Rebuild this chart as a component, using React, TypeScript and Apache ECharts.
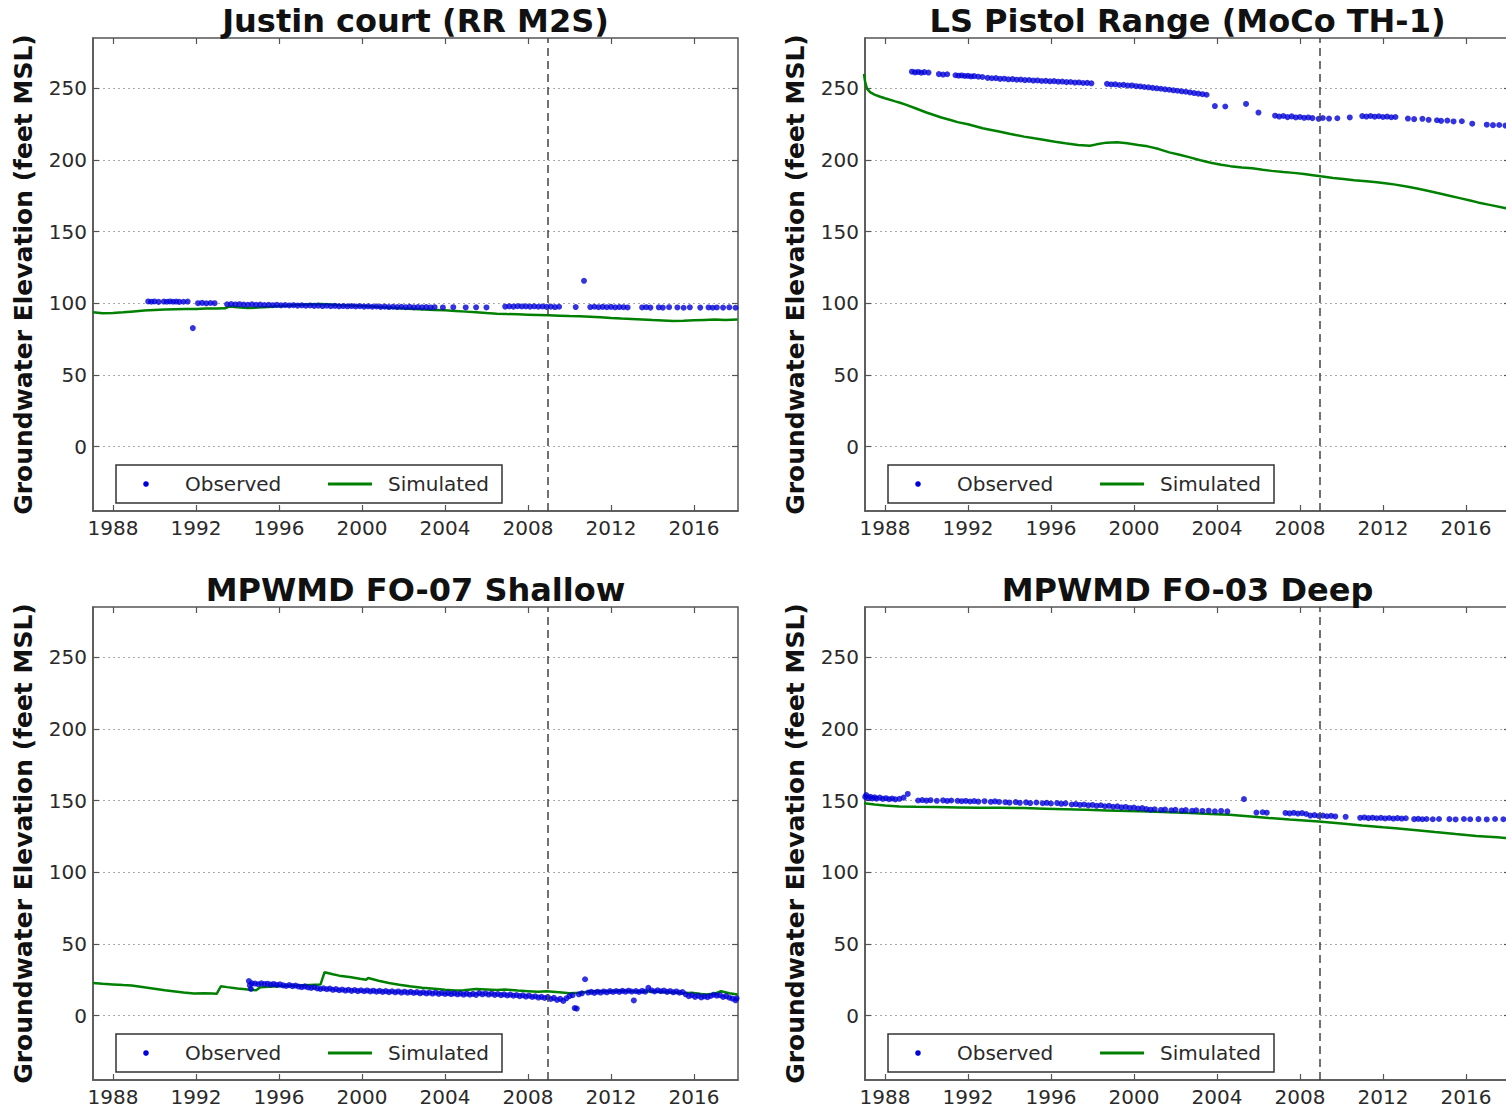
import React, { useEffect, useRef } from "react";
import * as echarts from "echarts";

// ---------- DATA ----------
const xTicks = [1988, 1992, 1996, 2000, 2004, 2008, 2012, 2016];
const yTicks = [0, 50, 100, 150, 200, 250];
const calibrationEnd = 2008.95;
const titles = [
  "Justin court (RR M2S)",
  "LS Pistol Range (MoCo TH-1)",
  "MPWMD FO-07 Shallow",
  "MPWMD FO-03 Deep",
];

const justinSim = [
  [1987.04, 93.6], [1987.5, 93.0], [1988.0, 93.1], [1988.5, 93.6], [1989.0, 94.2], [1989.5, 94.8], [1990.0, 95.3],
  [1990.5, 95.6], [1991.0, 95.8], [1991.5, 96.0], [1992.0, 96.0], [1992.5, 96.2], [1993.0, 96.3], [1993.4, 96.4],
  [1993.6, 97.6], [1994.0, 97.2], [1994.5, 96.6], [1995.0, 96.9], [1995.5, 97.4], [1996.0, 97.8], [1996.5, 98.3],
  [1997.0, 98.9], [1997.5, 99.2], [1998.0, 99.4], [1998.5, 99.0], [1999.0, 98.6], [1999.5, 98.3], [2000.0, 98.0],
  [2000.5, 97.6], [2001.0, 97.1], [2001.5, 96.7], [2002.0, 96.3], [2002.5, 96.0], [2003.0, 95.6], [2003.5, 95.3],
  [2004.0, 95.0], [2004.5, 94.6], [2005.0, 94.1], [2005.5, 93.6], [2006.0, 93.1], [2006.5, 92.7], [2007.0, 92.4],
  [2007.5, 92.2], [2008.0, 92.0], [2008.5, 91.8], [2009.0, 91.6], [2009.5, 91.3], [2010.0, 91.0], [2010.5, 90.8],
  [2011.0, 90.6], [2011.5, 90.2], [2012.0, 89.7], [2012.5, 89.3], [2013.0, 89.0], [2013.5, 88.6], [2014.0, 88.2],
  [2014.5, 87.9], [2015.0, 87.6], [2015.5, 87.7], [2016.0, 88.0], [2016.5, 88.3], [2017.0, 88.6], [2017.5, 88.2],
  [2018.1, 88.6],
];

const justinObs = [
  [1989.7, 101.2], [1989.85, 101.0], [1990.0, 101.2], [1990.2, 100.9], [1990.45, 101.1], [1990.6, 101.0],
  [1990.75, 101.2], [1990.9, 101.0], [1991.05, 101.1], [1991.2, 100.9], [1991.4, 101.0], [1991.6, 101.1],
  [1991.85, 82.6],
  [1992.1, 100.0], [1992.3, 100.2], [1992.5, 99.9], [1992.7, 100.1], [1992.9, 100.0],
  [1993.5, 99.2], [1993.7, 99.4], [1993.9, 99.1], [1994.1, 99.3], [1994.3, 99.0], [1994.5, 98.9], [1994.7, 99.2],
  [1994.9, 98.8], [1995.1, 99.0], [1995.3, 98.7], [1995.5, 98.9], [1995.7, 98.6], [1995.9, 98.8], [1996.1, 98.5],
  [1996.3, 98.7], [1996.5, 98.4], [1996.7, 98.6], [1996.9, 98.3], [1997.1, 98.5], [1997.3, 98.2], [1997.5, 98.4],
  [1997.7, 98.1], [1997.9, 98.3], [1998.1, 98.0], [1998.3, 98.2], [1998.5, 97.9], [1998.7, 98.1], [1998.9, 97.8],
  [1999.1, 98.0], [1999.3, 97.8], [1999.5, 98.0], [1999.7, 97.7], [1999.9, 97.9], [2000.1, 97.6], [2000.3, 97.8],
  [2000.5, 97.5], [2000.7, 97.7], [2000.9, 97.4], [2001.1, 97.6], [2001.3, 97.3], [2001.5, 97.5], [2001.7, 97.3],
  [2001.9, 97.5], [2002.1, 97.2], [2002.3, 97.4], [2002.5, 97.1], [2002.7, 97.3], [2002.9, 97.1], [2003.1, 97.3],
  [2003.3, 97.0], [2003.5, 97.2],
  [2003.9, 97.0], [2004.4, 97.2], [2005.0, 97.0], [2005.5, 97.1], [2006.0, 97.0],
  [2006.9, 97.6], [2007.1, 97.8], [2007.3, 97.6], [2007.5, 97.9], [2007.7, 97.7], [2007.9, 97.8], [2008.1, 97.6],
  [2008.3, 97.8], [2008.5, 97.5], [2008.7, 97.7], [2008.9, 97.4], [2009.1, 97.6], [2009.3, 97.3], [2009.5, 97.5],
  [2010.3, 97.3], [2010.7, 115.6],
  [2011.0, 97.3], [2011.2, 97.5], [2011.4, 97.2], [2011.6, 97.4], [2011.8, 97.2], [2012.0, 97.4], [2012.2, 97.1],
  [2012.4, 97.3], [2012.6, 97.2], [2012.8, 97.0],
  [2013.5, 97.0], [2013.7, 97.2], [2013.9, 96.9], [2014.3, 97.1], [2014.5, 96.9], [2014.8, 97.2], [2015.2, 97.0],
  [2015.5, 96.8], [2015.8, 97.1], [2016.3, 96.9], [2016.7, 97.0], [2016.9, 96.8], [2017.1, 97.0], [2017.4, 96.9],
  [2017.7, 97.1], [2018.0, 96.8],
];

const pistolSim = [
  [1986.99, 260.0], [1987.05, 254.0], [1987.14, 249.5], [1987.3, 247.0], [1987.5, 245.5], [1987.74, 244.2],
  [1988.0, 243.0], [1988.5, 240.8], [1988.73, 239.8], [1989.0, 238.5], [1989.5, 235.8], [1990.0, 233.0],
  [1990.72, 229.5], [1991.2, 227.6], [1991.5, 226.3], [1992.0, 224.8], [1992.71, 222.0], [1993.0, 221.2],
  [1993.5, 219.8], [1994.0, 218.2], [1994.7, 216.2], [1995.2, 215.0], [1995.7, 213.9], [1996.2, 212.6],
  [1996.69, 211.5], [1997.3, 210.4], [1997.88, 209.8], [1998.2, 210.8], [1998.68, 212.0], [1999.2, 212.2],
  [1999.67, 211.6], [2000.2, 210.4], [2000.66, 209.4], [2001.2, 207.5], [2001.7, 205.2], [2002.2, 203.6],
  [2002.65, 201.9], [2003.2, 199.7], [2003.7, 198.0], [2004.2, 196.6], [2004.64, 195.6], [2005.2, 194.7],
  [2005.7, 194.1], [2006.2, 193.1], [2006.63, 192.3], [2007.2, 191.5], [2007.7, 190.9], [2008.2, 190.1],
  [2008.62, 189.3], [2009.0, 188.5], [2009.6, 187.4], [2010.1, 186.6], [2010.61, 185.8], [2011.2, 185.0],
  [2011.7, 184.3], [2012.2, 183.5], [2012.6, 182.7], [2013.2, 181.2], [2013.7, 179.8], [2014.2, 178.3],
  [2014.58, 177.0], [2015.2, 175.0], [2015.7, 173.3], [2016.2, 171.6], [2016.57, 170.3], [2017.2, 168.4],
  [2017.93, 166.2], [2018.15, 165.6],
];

const pistolObs = [
  [1989.3, 261.5], [1989.45, 261.0], [1989.6, 261.3], [1989.75, 260.8], [1989.9, 261.2], [1990.1, 260.9],
  [1990.6, 259.8], [1990.8, 259.5], [1991.0, 259.7],
  [1991.4, 259.0], [1991.55, 258.7], [1991.7, 258.9], [1991.85, 258.5], [1992.0, 258.6], [1992.15, 258.2],
  [1992.3, 258.4], [1992.5, 258.0], [1992.7, 257.8],
  [1992.95, 257.2], [1993.15, 256.9], [1993.35, 257.0], [1993.55, 256.5], [1993.75, 256.6], [1993.95, 256.2],
  [1994.15, 256.3], [1994.35, 255.9], [1994.55, 256.0], [1994.75, 255.6], [1994.95, 255.7], [1995.15, 255.3],
  [1995.35, 255.4], [1995.55, 255.0], [1995.75, 255.1], [1995.95, 254.8], [1996.15, 254.9], [1996.35, 254.5],
  [1996.55, 254.6], [1996.75, 254.2], [1996.95, 254.3], [1997.15, 253.9], [1997.35, 254.0], [1997.55, 253.6],
  [1997.75, 253.7], [1997.95, 253.4],
  [1998.7, 253.0], [1998.9, 252.6], [1999.1, 252.7], [1999.3, 252.2], [1999.5, 252.3], [1999.7, 251.8],
  [1999.9, 251.9], [2000.1, 251.4], [2000.3, 251.2], [2000.5, 250.8], [2000.7, 250.6], [2000.9, 250.2],
  [2001.1, 249.9], [2001.3, 249.6], [2001.5, 249.2], [2001.7, 248.9], [2001.9, 248.5], [2002.1, 248.2],
  [2002.3, 247.8], [2002.5, 247.5], [2002.7, 247.0], [2002.9, 246.6], [2003.1, 246.2], [2003.3, 245.8],
  [2003.5, 245.4],
  [2003.9, 237.5], [2004.4, 237.2], [2005.4, 239.0], [2006.0, 233.0],
  [2006.8, 230.8], [2007.0, 230.2], [2007.2, 230.6], [2007.4, 229.8], [2007.6, 230.3], [2007.8, 229.6],
  [2008.0, 229.9], [2008.2, 229.3], [2008.4, 229.6], [2008.6, 229.1], [2008.9, 228.6], [2009.1, 229.2],
  [2009.4, 228.8], [2009.8, 229.0], [2010.4, 229.6],
  [2011.0, 230.5], [2011.2, 230.2], [2011.4, 230.6], [2011.6, 230.1], [2011.8, 230.4], [2012.0, 229.9],
  [2012.2, 230.2], [2012.4, 229.7], [2012.6, 229.9],
  [2013.2, 228.8], [2013.5, 228.4], [2013.9, 228.6], [2014.2, 227.9], [2014.6, 227.6], [2014.8, 227.2],
  [2015.1, 227.4], [2015.4, 226.8], [2015.8, 226.9], [2016.3, 225.2], [2017.0, 224.5], [2017.3, 224.2],
  [2017.6, 224.3], [2017.9, 223.9], [2018.1, 224.1],
];

const fo07Sim = [
  [1987.04, 22.7], [1987.5, 22.2], [1988.0, 21.7], [1988.5, 21.2], [1988.9, 20.9], [1989.5, 19.7], [1990.0, 18.7],
  [1990.5, 17.6], [1990.9, 16.9], [1991.4, 16.0], [1991.9, 15.3], [1992.4, 15.5], [1992.8, 15.3], [1993.0, 15.1],
  [1993.2, 20.4], [1993.5, 19.8], [1994.0, 18.9], [1994.5, 18.1], [1994.9, 17.6], [1995.1, 19.7], [1995.5, 20.0],
  [1996.0, 20.4], [1996.5, 20.7], [1996.9, 20.9], [1997.5, 21.3], [1998.0, 21.6], [1998.2, 30.2], [1998.6, 28.8],
  [1998.9, 27.8], [1999.4, 26.8], [1999.9, 25.6], [2000.2, 25.0], [2000.3, 26.2], [2000.8, 24.3], [2001.3, 22.7],
  [2001.8, 21.5], [2002.3, 20.4], [2002.9, 19.3], [2003.5, 18.6], [2004.0, 18.0], [2004.5, 17.5], [2004.9, 17.6],
  [2005.5, 18.5], [2006.0, 18.2], [2006.5, 17.8], [2006.9, 18.1], [2007.5, 17.4], [2008.0, 17.0], [2008.5, 16.5],
  [2008.9, 16.9], [2009.5, 16.2], [2010.0, 15.6], [2010.5, 15.8], [2011.0, 16.7], [2011.5, 17.0], [2011.9, 16.9],
  [2012.5, 17.3], [2013.0, 17.0], [2013.5, 16.6], [2013.9, 16.9], [2014.5, 16.3], [2015.0, 16.0], [2015.5, 15.6],
  [2015.9, 15.8], [2016.5, 14.7], [2017.0, 15.2], [2017.3, 16.9], [2017.7, 15.5], [2018.1, 14.6],
];

const fo07Obs = [
  [1994.55, 24.0], [1994.6, 21.0], [1994.65, 18.5], [1994.7, 22.5],
  [1994.85, 22.3], [1995.0, 21.8], [1995.15, 22.5], [1995.3, 21.9], [1995.45, 22.2], [1995.6, 21.6], [1995.75, 22.0],
  [1995.9, 21.3], [1996.05, 21.7], [1996.2, 21.0], [1996.35, 20.6], [1996.5, 21.2], [1996.65, 20.5], [1996.8, 20.9],
  [1996.95, 20.2], [1997.1, 19.8], [1997.25, 20.3], [1997.4, 19.6], [1997.55, 19.2], [1997.7, 19.7], [1997.85, 18.9],
  [1998.0, 18.5], [1998.15, 19.0], [1998.3, 18.3], [1998.45, 18.8], [1998.6, 17.9], [1998.75, 18.4], [1998.9, 17.6],
  [1999.05, 18.1], [1999.2, 17.4], [1999.35, 17.9], [1999.5, 17.2], [1999.65, 17.8], [1999.8, 17.0], [1999.95, 17.6],
  [2000.1, 16.9], [2000.25, 17.5], [2000.4, 16.8], [2000.55, 17.3], [2000.7, 16.6], [2000.85, 17.2], [2001.0, 16.5],
  [2001.15, 17.0], [2001.3, 16.3], [2001.45, 16.9], [2001.6, 16.2], [2001.75, 16.8], [2001.9, 16.0], [2002.05, 16.6],
  [2002.2, 15.9], [2002.35, 16.5], [2002.5, 15.7], [2002.65, 16.3], [2002.8, 15.5], [2002.95, 16.2], [2003.1, 15.4],
  [2003.25, 16.0], [2003.4, 15.3], [2003.55, 15.9], [2003.7, 15.1], [2003.85, 15.7], [2004.0, 15.0], [2004.15, 15.6],
  [2004.3, 14.9], [2004.45, 15.5], [2004.6, 14.8], [2004.75, 15.3], [2004.9, 14.6], [2005.05, 15.2], [2005.2, 14.5],
  [2005.35, 15.1], [2005.5, 14.4], [2005.65, 15.6], [2005.8, 14.8], [2005.95, 15.4], [2006.1, 14.6], [2006.25, 15.2],
  [2006.4, 14.4], [2006.55, 15.0], [2006.7, 14.2], [2006.85, 14.8], [2007.0, 14.0], [2007.15, 14.6], [2007.3, 13.8],
  [2007.45, 14.3], [2007.6, 13.5], [2007.75, 14.1], [2007.9, 13.2], [2008.05, 13.8], [2008.2, 12.9], [2008.35, 13.4],
  [2008.5, 12.5], [2008.65, 13.0], [2008.8, 12.2], [2008.95, 12.8], [2009.1, 11.5], [2009.25, 12.3], [2009.4, 10.8],
  [2009.55, 11.6], [2009.7, 10.2], [2009.85, 12.0], [2010.0, 13.5], [2010.15, 14.2], [2010.25, 5.2], [2010.35, 4.8],
  [2010.45, 14.8], [2010.6, 15.5], [2010.75, 25.3], [2010.9, 16.0], [2011.05, 16.5], [2011.2, 15.8], [2011.35, 16.6],
  [2011.5, 16.0], [2011.65, 16.8], [2011.8, 16.2], [2011.95, 17.0], [2012.1, 16.4], [2012.25, 17.1], [2012.4, 16.5],
  [2012.55, 17.2], [2012.7, 16.6], [2012.85, 17.3], [2013.0, 16.7], [2013.1, 10.5], [2013.2, 17.0], [2013.35, 16.4],
  [2013.5, 17.2], [2013.65, 16.6], [2013.8, 19.3], [2013.95, 17.5], [2014.1, 16.8], [2014.25, 17.6], [2014.4, 16.9],
  [2014.55, 17.4], [2014.7, 16.5], [2014.85, 17.1], [2015.0, 16.2], [2015.15, 16.8], [2015.3, 15.9], [2015.45, 16.4],
  [2015.6, 14.8], [2015.75, 13.5], [2015.9, 14.2], [2016.05, 13.0], [2016.2, 13.8], [2016.35, 12.6], [2016.5, 13.4],
  [2016.65, 12.8], [2016.8, 13.6], [2016.95, 14.5], [2017.1, 13.8], [2017.25, 14.2], [2017.4, 12.9], [2017.55, 13.5],
  [2017.7, 12.4], [2017.85, 11.8], [2018.0, 10.6], [2018.05, 12.0],
];

const fo03Sim = [
  [1987.0, 148.1], [1987.5, 147.2], [1988.0, 146.5], [1988.7, 145.8], [1989.5, 145.6], [1990.5, 145.4],
  [1991.5, 145.2], [1992.5, 145.0], [1993.5, 144.9], [1994.7, 144.7], [1995.7, 144.3], [1996.7, 143.9],
  [1997.7, 143.5], [1998.7, 143.1], [1999.7, 142.7], [2000.7, 142.3], [2001.7, 141.8], [2002.7, 141.2],
  [2003.7, 140.6], [2004.6, 140.0], [2005.5, 139.0], [2006.5, 137.8], [2007.5, 136.7], [2008.9, 135.4],
  [2010.0, 134.0], [2011.0, 132.6], [2012.0, 131.4], [2012.6, 130.7], [2013.5, 129.5], [2014.5, 128.0],
  [2015.5, 126.6], [2016.5, 125.3], [2017.5, 124.3], [2018.15, 123.5],
];

const fo03Obs = [
  [1987.02, 155.0], [1987.05, 152.5], [1987.1, 153.8], [1987.2, 151.8], [1987.3, 152.6], [1987.4, 151.5],
  [1987.5, 152.2], [1987.6, 151.3], [1987.75, 152.0], [1987.9, 151.2], [1988.05, 151.6], [1988.2, 150.9],
  [1988.35, 151.4], [1988.5, 150.8], [1988.7, 151.2], [1988.9, 152.0], [1989.1, 154.6],
  [1989.6, 150.0], [1989.8, 150.3], [1990.0, 149.9], [1990.2, 150.2], [1990.5, 149.8], [1990.8, 150.1],
  [1991.0, 149.7], [1991.2, 150.0], [1991.5, 149.8],
  [1991.7, 149.5], [1991.9, 149.7], [1992.1, 149.3], [1992.3, 149.6], [1992.5, 149.2], [1992.8, 149.5],
  [1993.1, 149.1], [1993.3, 149.4], [1993.5, 149.0],
  [1993.8, 148.8], [1994.0, 148.5], [1994.3, 148.9], [1994.5, 148.4], [1994.8, 148.7], [1995.0, 148.2],
  [1995.3, 148.6], [1995.6, 148.1], [1995.8, 148.4], [1996.0, 147.9], [1996.3, 148.2], [1996.5, 147.7],
  [1996.7, 148.0],
  [1997.0, 147.2], [1997.2, 147.5], [1997.4, 146.9], [1997.6, 147.2], [1997.8, 146.6], [1998.0, 146.9],
  [1998.2, 146.3], [1998.4, 146.7], [1998.6, 146.0], [1998.8, 146.3], [1999.0, 145.6], [1999.2, 145.9],
  [1999.4, 145.2], [1999.6, 145.5], [1999.8, 144.8], [2000.0, 145.1], [2000.2, 144.4], [2000.4, 144.7],
  [2000.6, 144.0],
  [2000.8, 143.6], [2001.0, 143.9], [2001.3, 143.4], [2001.5, 143.7], [2001.8, 143.2], [2002.0, 143.5],
  [2002.3, 143.0], [2002.5, 143.3], [2002.8, 142.8], [2003.0, 143.1], [2003.3, 142.7], [2003.6, 142.9],
  [2003.9, 142.5], [2004.2, 142.7], [2004.5, 142.4],
  [2005.3, 151.0], [2005.9, 141.6], [2006.2, 141.8], [2006.4, 141.5],
  [2007.3, 141.3], [2007.5, 141.0], [2007.7, 141.4], [2007.9, 140.9], [2008.1, 141.2], [2008.3, 140.6],
  [2008.5, 139.5], [2008.7, 139.8], [2008.9, 139.2], [2009.1, 139.5], [2009.3, 139.0], [2009.5, 139.3],
  [2009.7, 138.9], [2010.2, 138.6],
  [2010.9, 137.9], [2011.1, 138.2], [2011.3, 137.7], [2011.5, 138.0], [2011.7, 137.6], [2011.9, 137.9],
  [2012.1, 137.5], [2012.3, 137.8], [2012.5, 137.4], [2012.7, 137.7], [2012.9, 137.4], [2013.1, 137.6],
  [2013.5, 137.0], [2013.7, 137.2], [2013.9, 136.9], [2014.1, 137.1], [2014.4, 136.9], [2014.7, 137.1],
  [2015.2, 137.0], [2015.5, 136.8], [2015.9, 137.1], [2016.2, 136.9], [2016.6, 137.0], [2017.0, 136.8],
  [2017.4, 137.1], [2017.8, 136.9], [2018.1, 137.0],
];

const observedSets = [justinObs, pistolObs, fo07Obs, fo03Obs];
const simulatedSets = [justinSim, pistolSim, fo07Sim, fo03Sim];

// ---------- LAYOUT / STYLE ----------
const X_MIN = 1987.04;
const X_MAX = 2018.12;
const Y_MIN = -45;
const Y_MAX = 285;
const PW = 645;
const PH = 473;
const panels = [
  { left: 93, top: 38 },
  { left: 865, top: 38 },
  { left: 93, top: 607 },
  { left: 865, top: 607 },
];
const FONT = "DejaVu Sans";
const FRAME = "#555";
const OBS_COLOR = "#0000d8";
const SIM_COLOR = "#008000";

function buildOption() {
  const grid: any[] = [];
  const xAxis: any[] = [];
  const yAxis: any[] = [];
  const series: any[] = [];
  const title: any[] = [];
  const graphic: any[] = [];

  panels.forEach((p, i) => {
    grid.push({
      left: p.left,
      top: p.top,
      width: PW,
      height: PH,
      show: true,
      borderColor: FRAME,
      borderWidth: 1.5,
      backgroundColor: "#fff",
    });
    const tickLine = { color: FRAME, width: 1.2 };
    const labelStyle = { fontSize: 20, color: "#2a2a2a", fontFamily: FONT };
    xAxis.push({
      type: "value",
      gridIndex: i,
      min: X_MIN,
      max: X_MAX,
      position: "bottom",
      axisLine: { show: true, onZero: false, lineStyle: { color: FRAME, width: 1.5 } },
      axisTick: { show: true, inside: true, length: 6, customValues: xTicks, lineStyle: tickLine },
      axisLabel: {
        show: true,
        customValues: xTicks,
        margin: 7,
        ...labelStyle,
        formatter: (v: number) => String(Math.round(v)),
      },
      splitLine: { show: false },
    });
    xAxis.push({
      type: "value",
      gridIndex: i,
      min: X_MIN,
      max: X_MAX,
      position: "top",
      axisLine: { show: false, onZero: false },
      axisTick: { show: true, inside: true, length: 6, customValues: xTicks, lineStyle: tickLine },
      axisLabel: { show: false },
      splitLine: { show: false },
    });
    yAxis.push({
      type: "value",
      gridIndex: i,
      min: Y_MIN,
      max: Y_MAX,
      position: "left",
      name: "Groundwater Elevation (feet MSL)",
      nameLocation: "middle",
      nameGap: 57,
      nameTextStyle: { fontSize: 25, fontWeight: "bold", color: "#111", fontFamily: FONT },
      axisLine: { show: true, onZero: false, lineStyle: { color: FRAME, width: 1.5 } },
      axisTick: { show: true, inside: true, length: 6, customValues: yTicks, lineStyle: tickLine },
      axisLabel: {
        show: true,
        customValues: yTicks,
        margin: 6,
        ...labelStyle,
        formatter: (v: number) => String(Math.round(v)),
      },
      splitLine: { show: true, lineStyle: { type: [2, 3], color: "#aaa", width: 1 } },
    });
    yAxis.push({
      type: "value",
      gridIndex: i,
      min: Y_MIN,
      max: Y_MAX,
      position: "right",
      axisLine: { show: false, onZero: false },
      axisTick: { show: true, inside: true, length: 6, customValues: yTicks, lineStyle: tickLine },
      axisLabel: { show: false },
      splitLine: { show: false },
    });

    series.push({
      name: "Simulated",
      type: "line",
      xAxisIndex: i * 2,
      yAxisIndex: i * 2,
      data: simulatedSets[i],
      showSymbol: false,
      symbol: "none",
      lineStyle: { color: SIM_COLOR, width: 2.5 },
      itemStyle: { color: SIM_COLOR },
      z: 2,
      markLine: {
        silent: true,
        symbol: ["none", "none"],
        label: { show: false },
        lineStyle: { type: [8, 5], color: "#444", width: 1.5 },
        data: [{ xAxis: calibrationEnd }],
      },
    });
    series.push({
      name: "Observed",
      type: "scatter",
      xAxisIndex: i * 2,
      yAxisIndex: i * 2,
      data: observedSets[i],
      symbol: "circle",
      symbolSize: 6,
      itemStyle: { color: OBS_COLOR },
      z: 3,
    });

    title.push({
      text: titles[i],
      left: p.left + PW / 2,
      top: p.top - 33,
      textAlign: "center",
      padding: 0,
      textStyle: { fontSize: 32, fontWeight: "bold", color: "#111", fontFamily: FONT },
    });

    // legend box
    const lx = p.left + 23;
    const ly = p.top + 427;
    graphic.push(
      {
        type: "rect",
        z: 100,
        shape: { x: lx, y: ly, width: 386, height: 38 },
        style: { fill: "#fff", stroke: "#333", lineWidth: 1.5 },
      },
      {
        type: "circle",
        z: 101,
        shape: { cx: lx + 30, cy: ly + 19, r: 2.8 },
        style: { fill: OBS_COLOR },
      },
      {
        type: "text",
        z: 101,
        style: {
          x: lx + 69,
          y: ly + 19,
          text: "Observed",
          fontSize: 20,
          fontFamily: FONT,
          fill: "#2a2a2a",
          verticalAlign: "middle",
          align: "left",
        },
      },
      {
        type: "line",
        z: 101,
        shape: { x1: lx + 212, y1: ly + 19, x2: lx + 256, y2: ly + 19 },
        style: { stroke: SIM_COLOR, lineWidth: 3 },
      },
      {
        type: "text",
        z: 101,
        style: {
          x: lx + 272,
          y: ly + 19,
          text: "Simulated",
          fontSize: 20,
          fontFamily: FONT,
          fill: "#2a2a2a",
          verticalAlign: "middle",
          align: "left",
        },
      }
    );
  });

  return {
    animation: false,
    backgroundColor: "#fff",
    textStyle: { fontFamily: FONT },
    title,
    grid,
    xAxis,
    yAxis,
    series,
    graphic,
  };
}

export default function App() {
  const ref = useRef<HTMLDivElement>(null);
  useEffect(() => {
    document.body.style.margin = "0";
    document.body.style.overflow = "hidden";
    const chart = echarts.init(ref.current!, null, { renderer: "svg" });
    chart.setOption(buildOption() as any);
    return () => chart.dispose();
  }, []);
  return (
    <div
      ref={ref}
      style={{ position: "fixed", left: 0, top: 0, width: 1520, height: 1110, background: "#fff" }}
    />
  );
}
